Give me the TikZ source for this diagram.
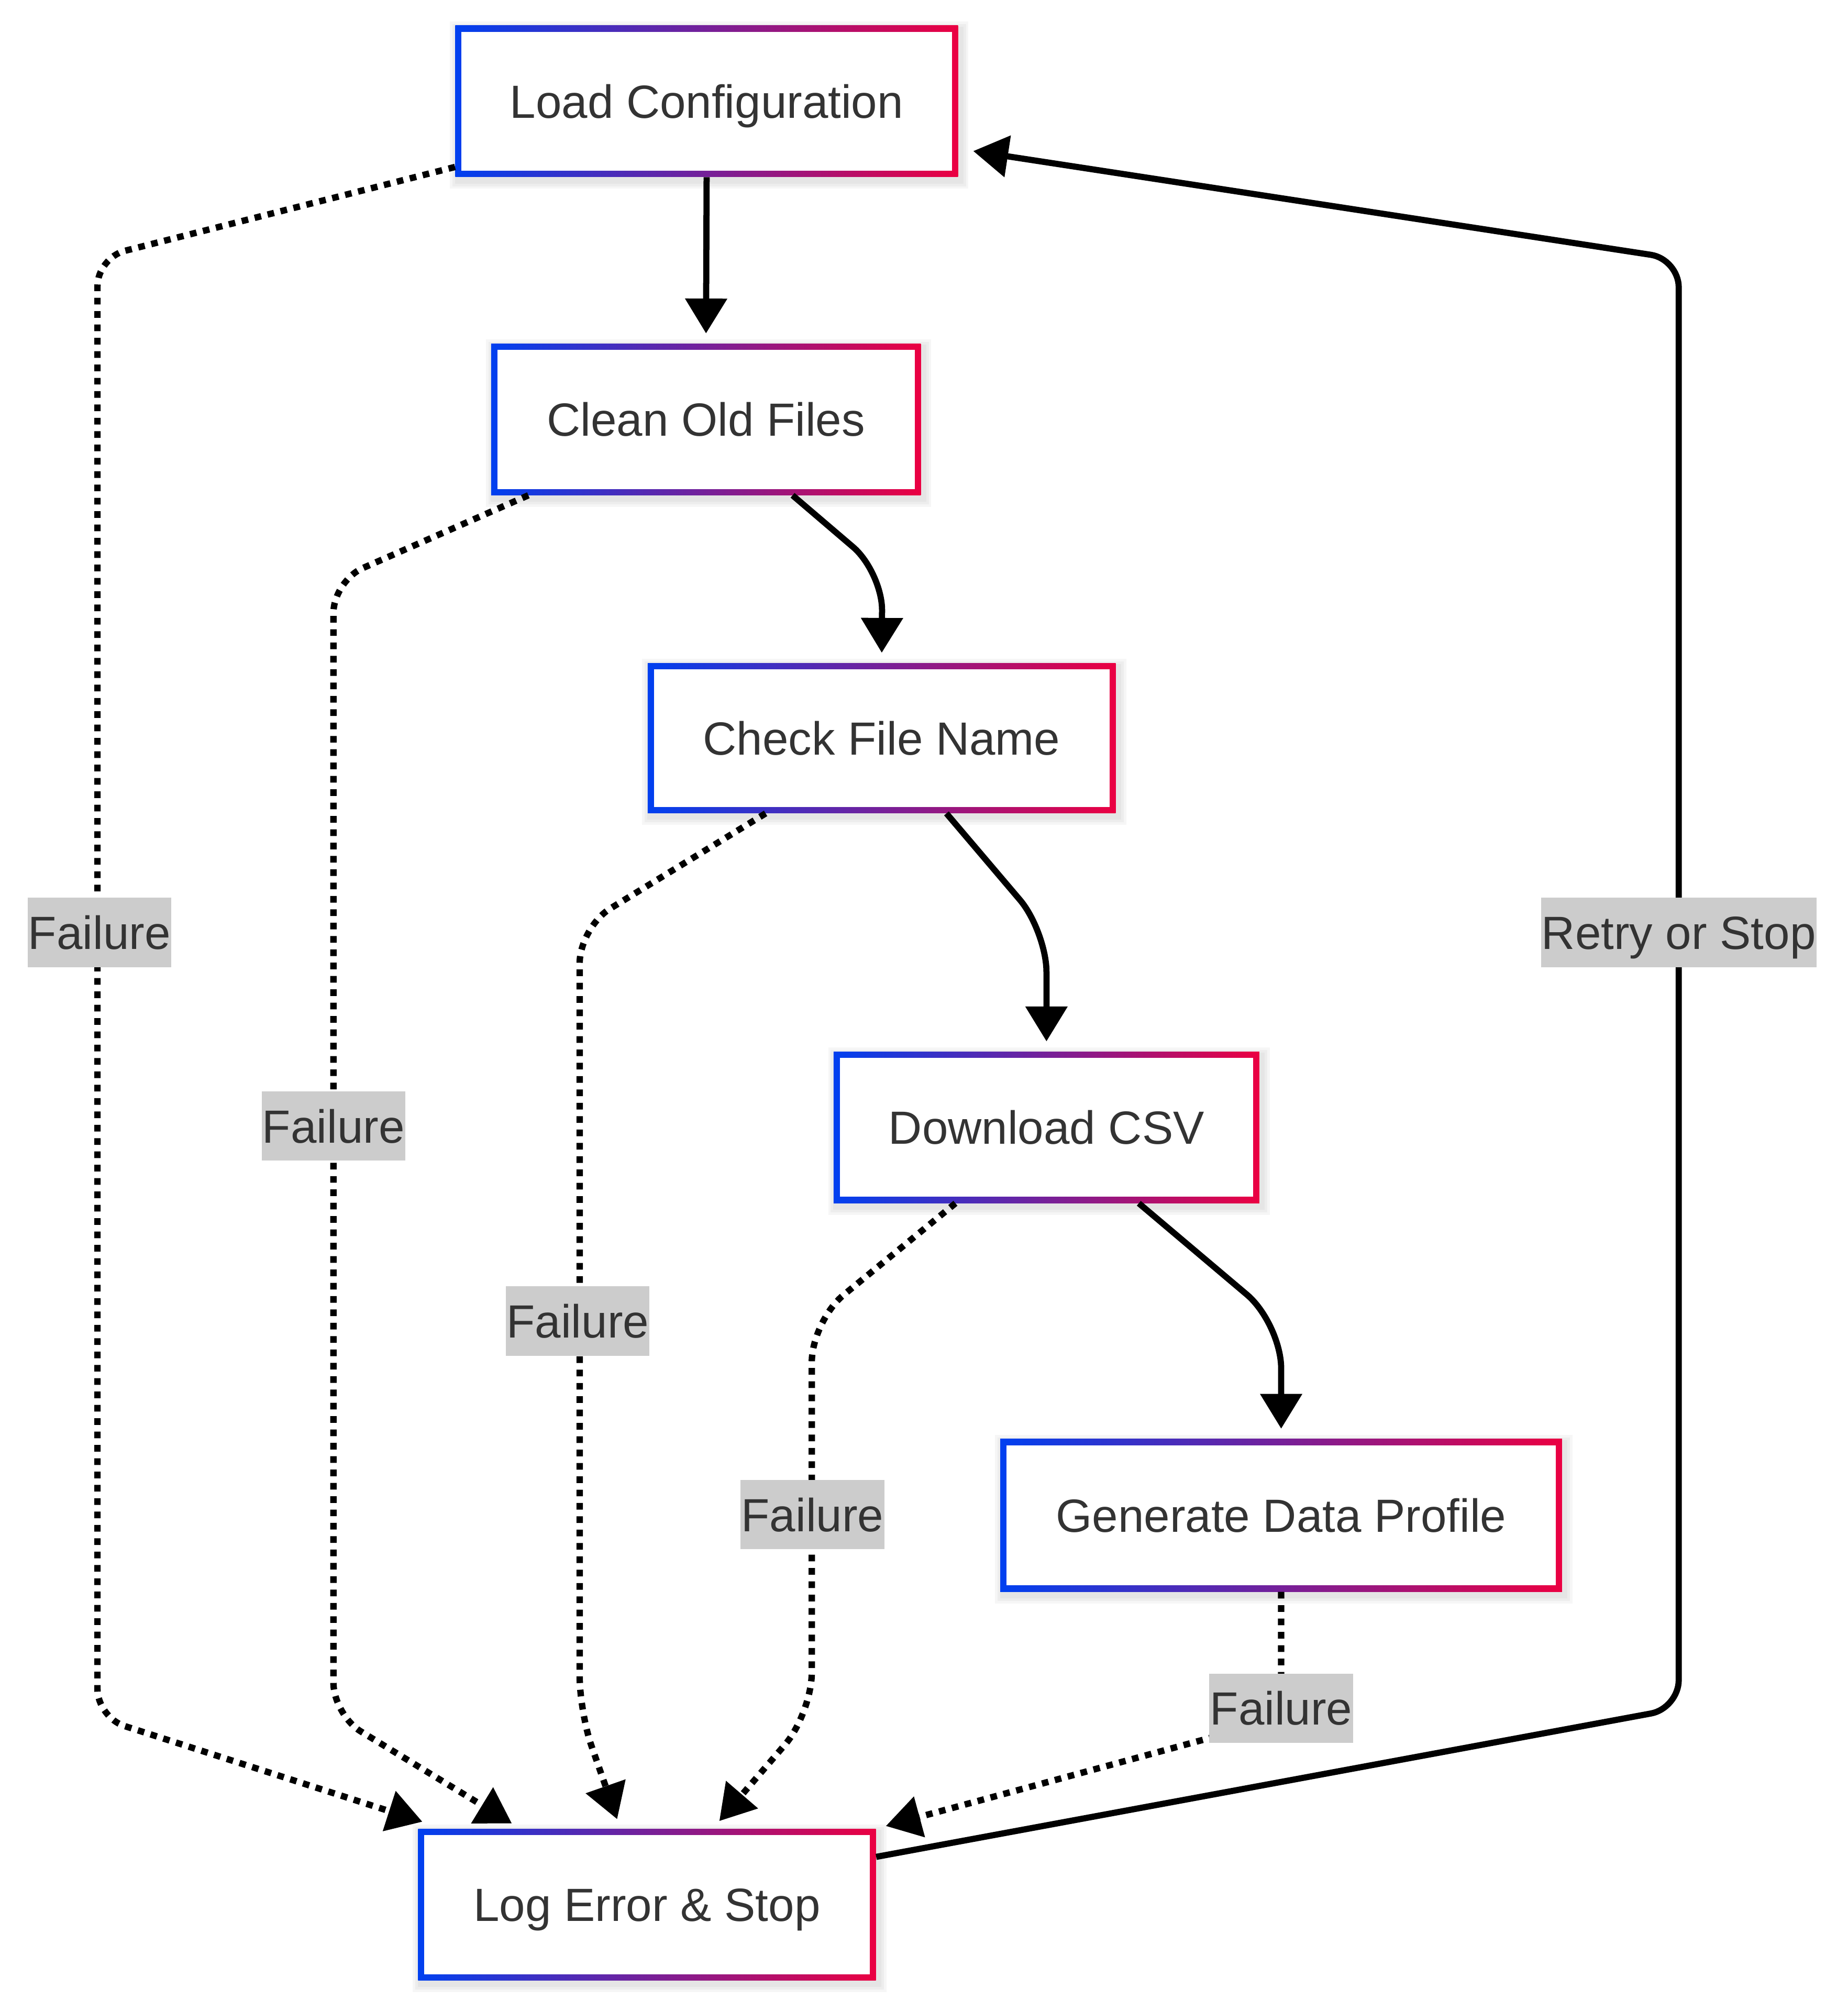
\documentclass[tikz,border=0pt]{standalone}
\usepackage{fontspec}
\setmainfont{Liberation Sans}
\usetikzlibrary{arrows.meta,backgrounds,calc}
\definecolor{gblue}{HTML}{0040F0}
\definecolor{gred}{HTML}{EB0042}
\definecolor{txt}{HTML}{333333}
\definecolor{lblbg}{HTML}{CCCCCC}
\newcommand\nodefontsz{\fontsize{36.3pt}{43pt}\selectfont}
\tikzset{
 box/.style={minimum height=118pt, inner sep=0pt, text=txt, font=\nodefontsz,
   text height=26pt, text depth=0pt, fill=white,
   path picture={
     \shade[left color=gblue, right color=gred] (path picture bounding box.south west) rectangle (path picture bounding box.north east);
     \fill[white] ([shift={(4.8pt,4.8pt)}]path picture bounding box.south west) rectangle ([shift={(-4.8pt,-4.8pt)}]path picture bounding box.north east);
   }},
 lbl/.style={fill=lblbg, inner xsep=0.5pt, inner ysep=0pt, minimum height=54pt, text=txt,
   font=\nodefontsz, text height=26pt, text depth=0pt},
 solidedge/.style={line width=4.8pt, -{Triangle[length=27pt,width=33pt,line width=0.5pt]}, shorten >=8pt},
 dottededge/.style={line width=5pt, dash pattern=on 5.2pt off 5.2pt, -{Triangle[length=27pt,width=33pt,line width=0.5pt]}, shorten >=8pt},
}
\begin{document}
\begin{tikzpicture}[x=1pt,y=-1pt]
\useasboundingbox (0,0) rectangle (1441,1568);
% nodes
\node[box, minimum width=392pt] (lc) at (551,79) {Load Configuration};
\node[box, minimum width=335pt] (cof) at (550.5,327) {Clean Old Files};
\node[box, minimum width=365pt, minimum height=117pt] (cfn) at (687.5,575.5) {Check File Name};
\node[box, minimum width=332pt] (dcsv) at (816,879) {Download CSV};
\node[box, minimum width=438pt, minimum height=119pt] (gdp) at (999,1181.5) {Generate Data Profile};
\node[box, minimum width=357pt] (les) at (504.5,1485) {Log Error \& Stop};
% soft shadows
\begin{scope}[on background layer]
\foreach \n in {lc,cof,cfn,dcsv,gdp,les}{
  \foreach \e in {2,4,6}{
    \fill[black, opacity=0.035] ([shift={(-\e pt+2pt,-\e pt-3pt)}]\n.south west) rectangle ([shift={(\e pt+2pt,\e pt-3pt)}]\n.north east);
  }
}
\end{scope}
% solid edges
\draw[solidedge] (lc.south) -- (cof.north);
\draw[solidedge, rounded corners=30pt] ([xshift=67.5pt]cof.south) -- (688,446) -- (cfn.north);
\draw[solidedge, rounded corners=32pt] ([xshift=50.5pt]cfn.south) -- (816,726) -- (dcsv.north);
\draw[solidedge, rounded corners=35pt] ([xshift=72pt]dcsv.south) -- (999,1032) -- (gdp.north);
% dotted failure edges
\draw[dottededge, rounded corners=22pt] ([yshift=8pt]lc.south west) -- (76,201) -- (76,1339) -- ([xshift=11pt,yshift=3pt]les.north west);
\draw[dottededge, rounded corners=25pt] ([xshift=-138.5pt]cof.south) -- (260,453) -- (260,1337) -- ([xshift=80pt]les.north west);
\draw[dottededge, rounded corners=28pt] ([xshift=-90.5pt]cfn.south) -- (452,723) -- (452,1335) -- ([xshift=158pt]les.north west);
\draw[dottededge, rounded corners=32pt] ([xshift=-71pt]dcsv.south) -- (633,1030) -- (633,1336) -- ([xshift=230pt]les.north west);
\draw[dottededge, rounded corners=20pt] (gdp.south) -- (999,1340) -- (les.north east);
% retry edge
\draw[solidedge, rounded corners=22pt, shorten >=12pt] ([yshift=-22pt]les.north east) -- (1309,1332) -- (1309,202) -- ([yshift=-37pt]lc.east);
% labels
\node[lbl] (f1) at (77.5,727) {Failure};
\node[lbl] (f2) at (260,878) {Failure};
\node[lbl] (f3) at (450.5,1030) {Failure};
\node[lbl] (f4) at (633.5,1181) {Failure};
\node[lbl] (f5) at (999,1332) {Failure};
\node[lbl] (rs) at (1309,727) {Retry or Stop};
\end{tikzpicture}
\end{document}
